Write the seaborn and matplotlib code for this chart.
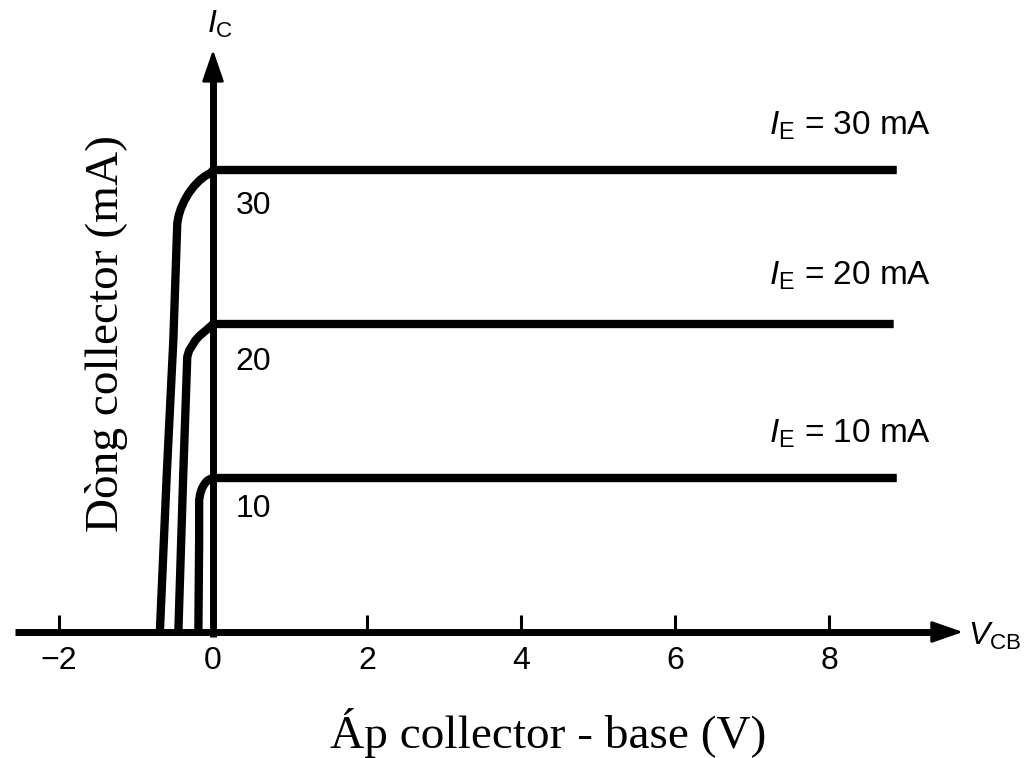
import matplotlib
matplotlib.use("Agg")
import matplotlib.pyplot as plt
import seaborn as sns
import pandas as pd

# ---------------- data ----------------
emitter_currents = ["10", "20", "30"]
ie_labels = [r"$I_{\mathrm{E}}$ = 10 mA", r"$I_{\mathrm{E}}$ = 20 mA", r"$I_{\mathrm{E}}$ = 30 mA"]
x_ticks = [-2, 0, 2, 4, 6, 8]

v_10 = [-0.19, -0.18, -0.18, -0.165, -0.143, -0.11, -0.074, -0.02, 0.0, 8.88]
i_10 = [0.0, 5.97, 8.57, 9.0, 9.33, 9.62, 9.83, 9.97, 10.0, 10.0]
v_20 = [-0.45, -0.386, -0.334, -0.31, -0.273, -0.23, -0.178, -0.10, -0.03, 0.0, 8.84]
i_20 = [0.0, 10.3, 17.88, 18.28, 18.57, 18.93, 19.22, 19.55, 19.85, 20.0, 20.0]
v_30 = [-0.69, -0.60, -0.515, -0.464, -0.445, -0.416, -0.37, -0.316, -0.25, -0.178, -0.10, -0.017, 0.0, 8.88]
i_30 = [0.0, 10.3, 18.96, 26.54, 27.05, 27.51, 28.02, 28.49, 28.93, 29.31, 29.62, 29.85, 30.0, 30.0]

rows = []
for name, vs, cs in zip(emitter_currents, [v_10, v_20, v_30], [i_10, i_20, i_30]):
    for v, c in zip(vs, cs):
        rows.append({"series": name, "V": v, "I": c})
df = pd.DataFrame(rows)

# ---------------- style ----------------
sns.set_style("white")
plt.rcParams["font.family"] = ["Liberation Sans", "DejaVu Sans"]
plt.rcParams["mathtext.fontset"] = "custom"
plt.rcParams["mathtext.rm"] = "Liberation Sans"
plt.rcParams["mathtext.it"] = "Liberation Sans:italic"
plt.rcParams["mathtext.bf"] = "Liberation Sans:bold"
plt.rcParams["text.color"] = "black"

W, H = 1027, 758
fig = plt.figure(figsize=(W / 100, H / 100), dpi=100)
ax = fig.add_axes([0, 0, 1, 1])

PX_PER_V = 77.0
PX_PER_MA = 15.4
X0, Y0 = 213, 632
ax.set_xlim(-X0 / PX_PER_V, (W - X0) / PX_PER_V)
ax.set_ylim(-(H - Y0) / PX_PER_MA, Y0 / PX_PER_MA)

sns.lineplot(data=df, x="V", y="I", hue="series",
             palette={k: "black" for k in emitter_currents},
             sort=False, estimator=None, legend=False, ax=ax,
             linewidth=6.0, solid_joinstyle="round", solid_capstyle="butt")

# axes as arrows through the origin
for s in ["top", "right"]:
    ax.spines[s].set_visible(False)
ax.spines["bottom"].set_position(("data", 0))
ax.spines["left"].set_position(("data", 0))
ax.spines["bottom"].set_bounds(-2.57, 9.5)
ax.spines["left"].set_bounds(-0.35, 36.5)
for s in ["bottom", "left"]:
    ax.spines[s].set_linewidth(5)
    ax.spines[s].set_color("black")
    ax.spines[s].set_capstyle("butt")

arrow_kw = dict(arrowstyle="-|>,head_length=1.3,head_width=0.45", color="black",
                lw=2, mutation_scale=15, shrinkA=0, shrinkB=0)
ax.annotate("", xy=(9.74, 0), xytext=(9.2, 0), arrowprops=arrow_kw)
ax.annotate("", xy=(0, 37.8), xytext=(0, 35.5), arrowprops=arrow_kw)

ax.set_xticks(x_ticks)
ax.set_xticklabels([f"{t}" if t >= 0 else f"\u2212{-t}" for t in x_ticks])
ax.tick_params(axis="x", bottom=True, direction="in", length=12, width=2.2, pad=10,
               labelsize=23, colors="black")
ax.set_yticks([])
ax.set_xlabel("")
ax.set_ylabel("")

# curve labels
label_baselines = [12.27, 22.53, 32.27]
num_baselines = [7.47, 17.0, 27.14]
for lab, yb in zip(ie_labels, label_baselines):
    ax.text(8.27, yb, lab, ha="center", va="baseline", fontsize=24)
for name, yb in zip(emitter_currents, num_baselines):
    ax.text(0.29, yb, name, ha="left", va="baseline", fontsize=23)

# axis names
ax.text(9.805, -0.84, r"$V_{\mathrm{CB}}$", ha="left", va="baseline", fontsize=23)
ax.text(-0.078, 38.9, r"$I_{\mathrm{C}}$", ha="left", va="baseline", fontsize=23)

serif = ["Liberation Serif", "DejaVu Serif"]
fig.text(548 / W, 1 - 748 / H, "Áp collector - base (V)", ha="center",
         va="baseline", fontsize=34, family=serif)
fig.text(107 / W, 1 - 333 / H, "Dòng collector (mA)", ha="center",
         va="center", rotation=90, fontsize=34, family=serif)

fig.savefig("out.png", dpi=100, facecolor="white")
